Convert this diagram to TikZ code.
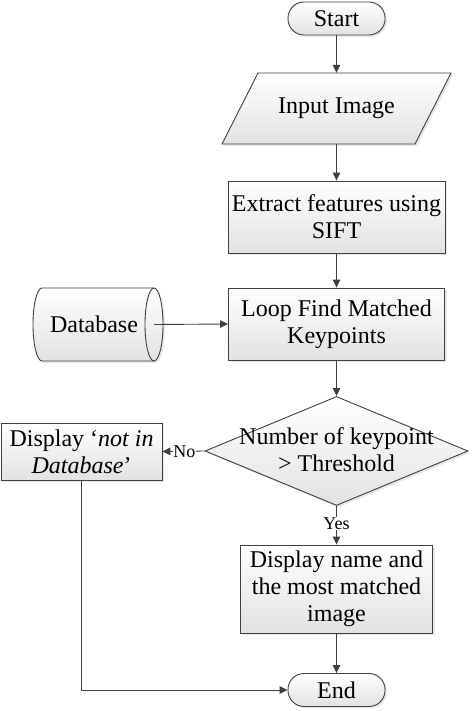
\documentclass[tikz,border=0pt]{standalone}
\usepackage{fontspec}
\setmainfont{Liberation Serif}
\usetikzlibrary{shapes.geometric,arrows.meta,shadows}
\definecolor{edge}{HTML}{404040}
\definecolor{fillbot}{HTML}{E2E2E2}
\tikzset{
 base/.style={draw=edge, line width=0.9pt, top color=white, bottom color=fillbot,
   drop shadow={opacity=0.18, shadow xshift=2pt, shadow yshift=-2pt},
   font=\fontsize{24}{27}\selectfont, align=center, inner sep=0pt},
 procbox/.style={base, rectangle},
 term/.style={base, rectangle, rounded corners=16pt, minimum width=97pt, minimum height=33pt},
 arr/.style={draw=edge, line width=0.9pt, -{Triangle[length=8pt,width=7.5pt]}},
 lbl/.style={fill=white, font=\fontsize{18}{20}\selectfont, inner sep=0.5pt},
 plain/.style={font=\fontsize{24}{27}\selectfont, align=center, inner sep=0pt},
}
\begin{document}
\begin{tikzpicture}[x=1pt,y=-1pt]
\useasboundingbox (0,0) rectangle (471,711);
% nodes
\node[term] (start) at (336.5,18.5) {Start};
% input parallelogram
\path[base] (258,73) -- (451,73) -- (415,144) -- (222,144) -- cycle;
\node[plain, minimum height=71pt] (inp) at (336.5,108.5) {Input Image};
\node[procbox, minimum width=217pt, minimum height=72pt] (ext) at (336.5,217) {Extract features using\\SIFT};
\node[procbox, minimum width=216pt, minimum height=72pt] (loop) at (336.5,324) {Loop Find Matched\\Keypoints};
% database cylinder
\path[base] (42,288) -- (154,288) arc (-90:90:9 and 36.5) -- (42,361) arc (90:270:9 and 36.5) -- cycle;
\draw[draw=edge, line width=0.9pt] (154,288) arc (-90:-270:9 and 36.5);
\node[plain] (db) at (94,324.5) {Database};
\coordinate (dbc) at (154,324.5);
\node[base, diamond, minimum width=263pt, minimum height=109pt] (dia) at (336.5,451) {};
\node[plain] (diatext) at (336.5,450) {Number of keypoint\\> Threshold};
\node[procbox, minimum width=161pt, minimum height=57pt] (nobox) at (81.5,451.5) {Display ‘\textit{not in}\\\textit{Database}’};
\node[procbox, minimum width=192pt, minimum height=88pt] (disp) at (336.5,589) {Display name and\\the most matched\\image};
\node[term] (end) at (336.5,690) {End};
% connectors
\draw[arr] (start) -- (inp);
\draw[arr] (inp) -- (ext);
\draw[arr] (ext) -- (loop);
\draw[arr] (dbc) -- (loop.west);
\draw[arr] (loop) -- (dia);
\draw[arr] (dia.west) -- node[lbl, pos=0.48]{No} (nobox.east);
\draw[arr] (dia.south) -- node[lbl,pos=0.45]{Yes} (disp.north);
\draw[arr] (disp) -- (end);
\draw[arr] (nobox.south) |- (end.west);
\end{tikzpicture}
\end{document}
